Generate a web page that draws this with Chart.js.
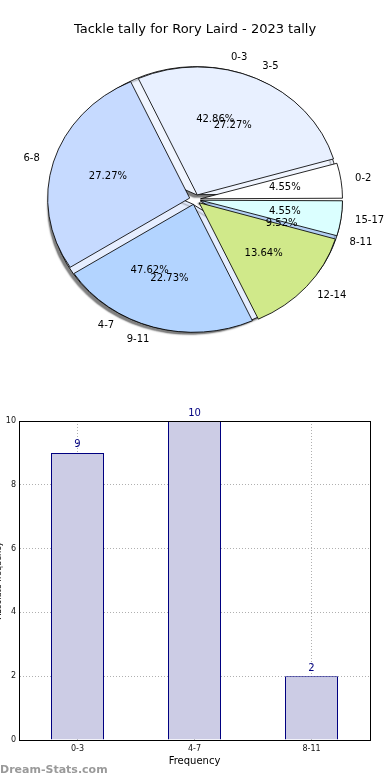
<!DOCTYPE html>
<html>
<head>
<meta charset="utf-8">
<script src="https://cdn.jsdelivr.net/npm/chart.js@4.4.1/dist/chart.umd.min.js"></script>
<style>
  html, body { margin: 0; padding: 0; background: #fff; overflow: hidden; }
  #lienzo { position: relative; width: 390px; height: 780px; overflow: hidden; }
  #pieAbajo, #pieArriba { position: absolute; left: 0; top: 0; }
  #barras { position: absolute; left: -12px; top: 400px; }
  #marca { position: absolute; left: 0; top: 763px; font: bold 11px "DejaVu Sans", sans-serif; color: #9a9a9a; }
</style>
</head>
<body>
<div id="lienzo">
  <canvas id="pieAbajo" width="390" height="390"></canvas>
  <canvas id="pieArriba" width="390" height="390"></canvas>
  <canvas id="barras" width="402" height="380"></canvas>
  <div id="marca">Dream-Stats.com</div>
</div>
<script>
// Datos del gráfico

const titulo = "Tackle tally for Rory Laird - 2023 tally";

// tarta fina (encima)
const rangosFinos = ["0-2", "3-5", "6-8", "9-11", "12-14", "15-17"];
const partidosFinos = [1, 6, 6, 5, 3, 1];

// tarta gruesa (debajo) y barras
const rangosGruesos = ["0-3", "4-7", "8-11"];
const partidosGruesos = [9, 10, 2];

// eje y de las barras
const marcasY = [0, 2, 4, 6, 8, 10];

// Estilos
const coloresFinos = ["#ffffff", "#e8f0ff", "#c6daff", "#b3d4ff", "#d0e98a", "#dbffff"];
const coloresGruesos = ["#f0f5ff", "#e6eeff", "#b3d0f5"];
const escalaX = 142 / 128; // la tarta sale achatada
const radioPie = 128;
const fuente = '"DejaVu Sans", sans-serif';

Chart.defaults.font.family = fuente;

// Chart.js dibuja en sentido horario, matplotlib al revés
function alReves(lista) {
  return lista.slice().reverse();
}

// estirar la tarta y compensar el radio que agrega "offset"
function pluginEstirar(conSombra) {
  return {
    id: "estirar",
    beforeDatasetsDraw(chart) {
      const meta = chart.getDatasetMeta(0);
      const base = meta.controller.outerRadius;
      meta.data.forEach((arco) => {
        const fix = 1 - Math.sin(Math.min(Math.PI, arco.circumference));
        arco.outerRadius = base - ((arco.options.offset || 0) / 4) * fix;
      });
      const ctx = chart.ctx;
      const centro = meta.data[0];
      ctx.save();
      ctx.translate(centro.x, centro.y);
      ctx.scale(escalaX, 1);
      ctx.translate(-centro.x, -centro.y);
      if (conSombra) {
        ctx.shadowColor = "rgba(0,0,0,0.5)";
        ctx.shadowOffsetX = -2.5;
        ctx.shadowOffsetY = 2.5;
        ctx.shadowBlur = 1.5;
      }
    },
    afterDatasetsDraw(chart) {
      chart.ctx.restore();
    },
  };
}

// etiquetas y porcentajes
function dibujarTextos(ctx, grafico) {
  const meta = grafico.getDatasetMeta(0);
  const valores = grafico.data.datasets[0].data;
  const total = valores.reduce((a, b) => a + b, 0);
  const radio = meta.controller.outerRadius;
  ctx.save();
  ctx.font = "10px " + fuente;
  ctx.fillStyle = "#000";
  ctx.textBaseline = "middle";
  meta.data.forEach((arco, i) => {
    const medio = (arco.startAngle + arco.endAngle) / 2;
    const desp = (arco.options.offset || 0) / 4;
    const cos = Math.cos(medio);
    const sin = Math.sin(medio);
    ctx.textAlign = "center";
    ctx.fillText(
      ((valores[i] / total) * 100).toFixed(2) + "%",
      arco.x + cos * (0.6 * radio + desp) * escalaX,
      arco.y + sin * (0.6 * radio + desp)
    );
    ctx.textAlign = cos > 0 ? "left" : "right";
    ctx.fillText(
      grafico.data.labels[i],
      arco.x + cos * (1.1 * radio + desp) * escalaX,
      arco.y + sin * (1.1 * radio + desp)
    );
  });
  ctx.restore();
}

function configPie(etiquetas, valores, colores, extra) {
  return {
    type: "pie",
    data: {
      labels: alReves(etiquetas),
      datasets: [
        {
          data: alReves(valores),
          backgroundColor: alReves(colores),
          borderColor: "#000",
          borderWidth: 0.8,
          borderJoinStyle: "miter",
          offset: 20,
          clip: false,
        },
      ],
    },
    options: {
      responsive: false,
      animation: false,
      events: [],
      radius: radioPie,
      rotation: 90,
      layout: { padding: { top: extra.top, bottom: 36.6 } },
      plugins: {
        legend: { display: false },
        tooltip: { enabled: false },
        title: extra.titulo,
      },
    },
    plugins: extra.plugins,
  };
}

// tarta de abajo
const pieAbajo = new Chart(
  document.getElementById("pieAbajo"),
  configPie(rangosGruesos, partidosGruesos, coloresGruesos, {
    top: 45.6,
    titulo: { display: false },
    plugins: [pluginEstirar(true)],
  })
);

// tarta de arriba, con todos los textos
const pieArriba = new Chart(
  document.getElementById("pieArriba"),
  configPie(rangosFinos, partidosFinos, coloresFinos, {
    top: 0,
    titulo: {
      display: true,
      text: titulo,
      color: "#000",
      font: { size: 13, weight: "normal" },
      padding: { top: 22, bottom: 8 },
    },
    plugins: [
      pluginEstirar(false),
      {
        id: "textos",
        afterDraw(chart) {
          dibujarTextos(chart.ctx, pieAbajo);
          dibujarTextos(chart.ctx, chart);
        },
      },
    ],
  })
);

// Barras
const rejilla = { color: "#b0b0b0", lineWidth: 1, drawTicks: false, offset: false };
const bordeEje = { display: true, color: "#000", width: 1, dash: [1, 2] };

new Chart(document.getElementById("barras"), {
  type: "bar",
  data: {
    labels: rangosGruesos,
    datasets: [
      {
        data: partidosGruesos,
        backgroundColor: "rgb(204,204,229)",
        borderColor: "#000080",
        borderWidth: 1,
        barPercentage: 53 / 117,
        categoryPercentage: 1,
      },
    ],
  },
  options: {
    responsive: false,
    animation: false,
    events: [],
    layout: { padding: { top: 21, right: 20, left: 0, bottom: 0 } },
    plugins: { legend: { display: false }, tooltip: { enabled: false } },
    scales: {
      x: {
        z: 1,
        grid: rejilla,
        border: bordeEje,
        ticks: { color: "#111", font: { size: 8 }, padding: 4 },
        title: {
          display: true,
          text: "Frequency",
          color: "#000",
          font: { size: 10 },
          padding: { top: 0, bottom: 13 },
        },
        afterFit(escala) {
          escala.height = 40;
        },
      },
      y: {
        z: 1,
        min: marcasY[0],
        max: marcasY[marcasY.length - 1],
        grid: rejilla,
        border: bordeEje,
        ticks: { stepSize: marcasY[1] - marcasY[0], color: "#111", font: { size: 8 }, padding: 3 },
        title: {
          display: true,
          text: "Absolute frequency",
          color: "#000",
          font: { size: 8 },
          padding: { top: 6, bottom: 0 },
        },
        afterFit(escala) {
          escala.width = 31;
        },
      },
    },
  },
  plugins: [
    {
      id: "marcoYValores",
      afterDraw(chart) {
        const ctx = chart.ctx;
        const { left, top, right, bottom } = chart.chartArea;
        ctx.save();
        ctx.strokeStyle = "#000";
        ctx.lineWidth = 1;
        ctx.strokeRect(Math.round(left) + 0.5, Math.round(top) + 0.5, Math.round(right - left), Math.round(bottom - top));
        ctx.fillStyle = "#000080";
        ctx.font = "10px " + fuente;
        ctx.textAlign = "center";
        ctx.textBaseline = "bottom";
        const valores = chart.data.datasets[0].data;
        chart.getDatasetMeta(0).data.forEach((barra, i) => {
          ctx.fillText(valores[i], barra.x, barra.y - 3);
        });
        ctx.restore();
      },
    },
  ],
});
</script>
</body>
</html>
